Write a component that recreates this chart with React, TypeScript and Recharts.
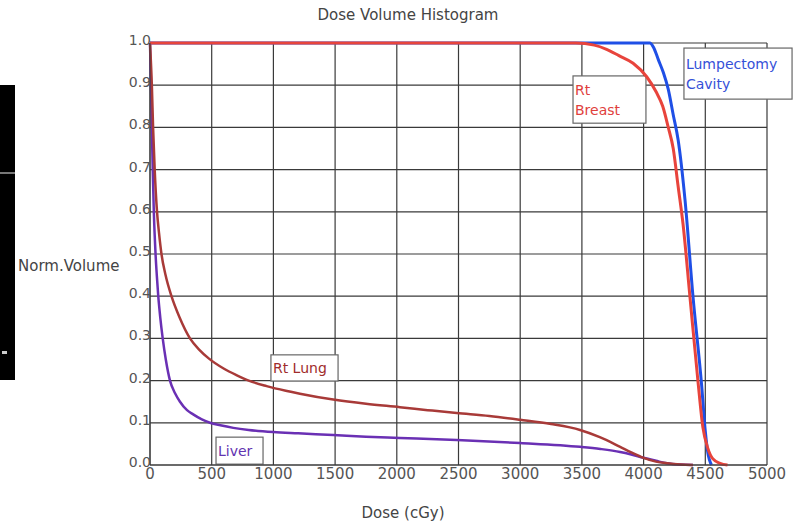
import {
  CartesianGrid,
  Line,
  LineChart,
  ReferenceArea,
  XAxis,
  YAxis,
} from "recharts";

const font = '"DejaVu Sans", Verdana, sans-serif';

// dose in cGy, normalized volume
const cavityDose = [0, 4050, 4080, 4120, 4160, 4200, 4240, 4280, 4335, 4400, 4470, 4500, 4520, 4550];
const cavityVolume = [1, 1, 0.99, 0.96, 0.93, 0.89, 0.83, 0.77, 0.63, 0.4, 0.19, 0.08, 0.03, 0];

const breastDose = [0, 3450, 3600, 3700, 3800, 3915, 4025, 4100, 4155, 4200, 4240, 4280, 4320, 4375, 4440, 4480, 4520, 4560, 4620, 4680];
const breastVolume = [1, 1, 0.995, 0.985, 0.97, 0.952, 0.92, 0.885, 0.85, 0.8, 0.75, 0.66, 0.57, 0.4, 0.2, 0.09, 0.04, 0.015, 0.004, 0];

const lungDose = [0, 15, 25, 38, 57, 73, 93, 126, 174, 239, 324, 400, 478, 600, 700, 800, 945, 1100, 1215, 1485, 1750, 2025, 2250, 2485, 2750, 3000, 3250, 3485, 3645, 3810, 3900, 4000, 4100, 4190, 4300, 4400];
const lungVolume = [1, 0.9, 0.8, 0.7, 0.6, 0.55, 0.5, 0.45, 0.4, 0.35, 0.3, 0.273, 0.252, 0.228, 0.213, 0.2, 0.187, 0.176, 0.169, 0.155, 0.145, 0.137, 0.13, 0.123, 0.116, 0.107, 0.097, 0.083, 0.066, 0.043, 0.03, 0.017, 0.008, 0.004, 0.001, 0];

const liverDose = [0, 8, 15, 22, 31, 45, 55, 67, 83, 103, 128, 162, 203, 243, 300, 350, 420, 486, 570, 675, 800, 1000, 1200, 1485, 1750, 2025, 2485, 3000, 3485, 3650, 3810, 3900, 4000, 4100, 4190, 4300, 4400];
const liverVolume = [1, 0.9, 0.8, 0.7, 0.6, 0.5, 0.45, 0.4, 0.35, 0.3, 0.25, 0.2, 0.17, 0.15, 0.13, 0.12, 0.108, 0.1, 0.094, 0.088, 0.083, 0.078, 0.075, 0.071, 0.067, 0.064, 0.059, 0.052, 0.043, 0.038, 0.031, 0.025, 0.017, 0.01, 0.004, 0.001, 0];

const doseTicks = [0, 500, 1000, 1500, 2000, 2500, 3000, 3500, 4000, 4500, 5000];
const volumeTicks = [0, 0.1, 0.2, 0.3, 0.4, 0.5, 0.6, 0.7, 0.8, 0.9, 1.0];

// structure name boxes, in data units
const annotations = [
  { lines: ["Lumpectomy", "Cavity"], color: "#3550d8", x1: 4327, x2: 5203, y1: 0.867, y2: 0.988 },
  { lines: ["Rt", "Breast"], color: "#e0403c", x1: 3428, x2: 4019, y1: 0.81, y2: 0.922 },
  { lines: ["Rt Lung"], color: "#a02c2c", x1: 980, x2: 1524, y1: 0.199, y2: 0.261 },
  { lines: ["Liver"], color: "#6234b0", x1: 535, x2: 916, y1: 0.002, y2: 0.066 },
];

const toPoints = (dose: number[], volume: number[]) =>
  dose.map((d, i) => ({ dose: d, volume: volume[i] }));

const series = [
  { name: "Liver", data: toPoints(liverDose, liverVolume), color: "#6a30b4", width: 2.5 },
  { name: "Rt Lung", data: toPoints(lungDose, lungVolume), color: "#a83a38", width: 2.5 },
  { name: "Lumpectomy Cavity", data: toPoints(cavityDose, cavityVolume), color: "#1f4fe6", width: 3 },
  { name: "Rt Breast", data: toPoints(breastDose, breastVolume), color: "#e8443c", width: 3 },
];

const XTick = ({ x, y, payload }: any) => (
  <text x={x} y={y + 9} textAnchor="middle" dominantBaseline="central" fill="#555" fontSize={15} fontFamily={font}>
    {payload.value}
  </text>
);

const YTick = ({ x, y, payload }: any) => (
  <text x={x + 1} y={y - 3} textAnchor="end" dominantBaseline="central" fill="#555" fontSize={14} fontFamily={font}>
    {Number(payload.value).toFixed(1)}
  </text>
);

const makeBox = (lines: string[], color: string) => (props: any) => {
  const { x, y, width, height } = props;
  const first = y + (height - (lines.length - 1) * 20) / 2;
  return (
    <g>
      <rect x={x} y={y} width={width} height={height} fill="#fff" stroke="#666" strokeWidth={1.2} />
      {lines.map((l, i) => (
        <text key={l} x={x + 2} y={first + i * 20} dominantBaseline="central" fill={color} fontSize={14} fontFamily={font}>
          {l}
        </text>
      ))}
    </g>
  );
};

const App = () => {
  return (
    <div style={{ position: "absolute", left: 0, top: 0, width: 798, height: 524, background: "#fff", fontFamily: font }}>
      <div style={{ position: "absolute", left: 0, top: 85, width: 15, height: 295, background: "#000" }}>
        <div style={{ position: "absolute", left: 0, top: 87, width: 15, height: 2, background: "#777" }} />
        <div style={{ position: "absolute", left: 2, top: 266, width: 5, height: 3, background: "#ccc" }} />
      </div>
      <div style={{ position: "absolute", left: 0, width: 816, top: 6, textAlign: "center", fontSize: 15, color: "#444" }}>
        Dose Volume Histogram
      </div>
      <div style={{ position: "absolute", left: 18, top: 257, fontSize: 15, color: "#444" }}>Norm.Volume</div>
      <div style={{ position: "absolute", left: 0, width: 806, top: 504, textAlign: "center", fontSize: 15, color: "#444" }}>
        Dose (cGy)
      </div>
      <div style={{ position: "absolute", left: 0, top: 0 }}>
        <LineChart width={798} height={524} margin={{ top: 43, right: 31, bottom: 29, left: 100 }}>
          <CartesianGrid stroke="#3a3a3a" strokeWidth={1.2} />
          <XAxis
            type="number"
            dataKey="dose"
            domain={[0, 5000]}
            ticks={doseTicks}
            interval={0}
            height={30}
            tickSize={0}
            tickMargin={0}
            tick={<XTick />}
            axisLine={{ stroke: "#3a3a3a" }}
          />
          <YAxis
            type="number"
            dataKey="volume"
            domain={[0, 1]}
            ticks={volumeTicks}
            interval={0}
            width={50}
            tickSize={0}
            tickMargin={0}
            tick={<YTick />}
            axisLine={{ stroke: "#3a3a3a" }}
          />
          {annotations.map((a) => (
            <ReferenceArea
              key={a.lines.join(" ")}
              x1={a.x1}
              x2={a.x2}
              y1={a.y1}
              y2={a.y2}
              ifOverflow="visible"
              shape={makeBox(a.lines, a.color)}
            />
          ))}
          {series.map((s) => (
            <Line
              key={s.name}
              name={s.name}
              data={s.data}
              dataKey="volume"
              type="monotone"
              stroke={s.color}
              strokeWidth={s.width}
              dot={false}
              activeDot={false}
              isAnimationActive={false}
            />
          ))}
        </LineChart>
      </div>
    </div>
  );
};

export default App;
